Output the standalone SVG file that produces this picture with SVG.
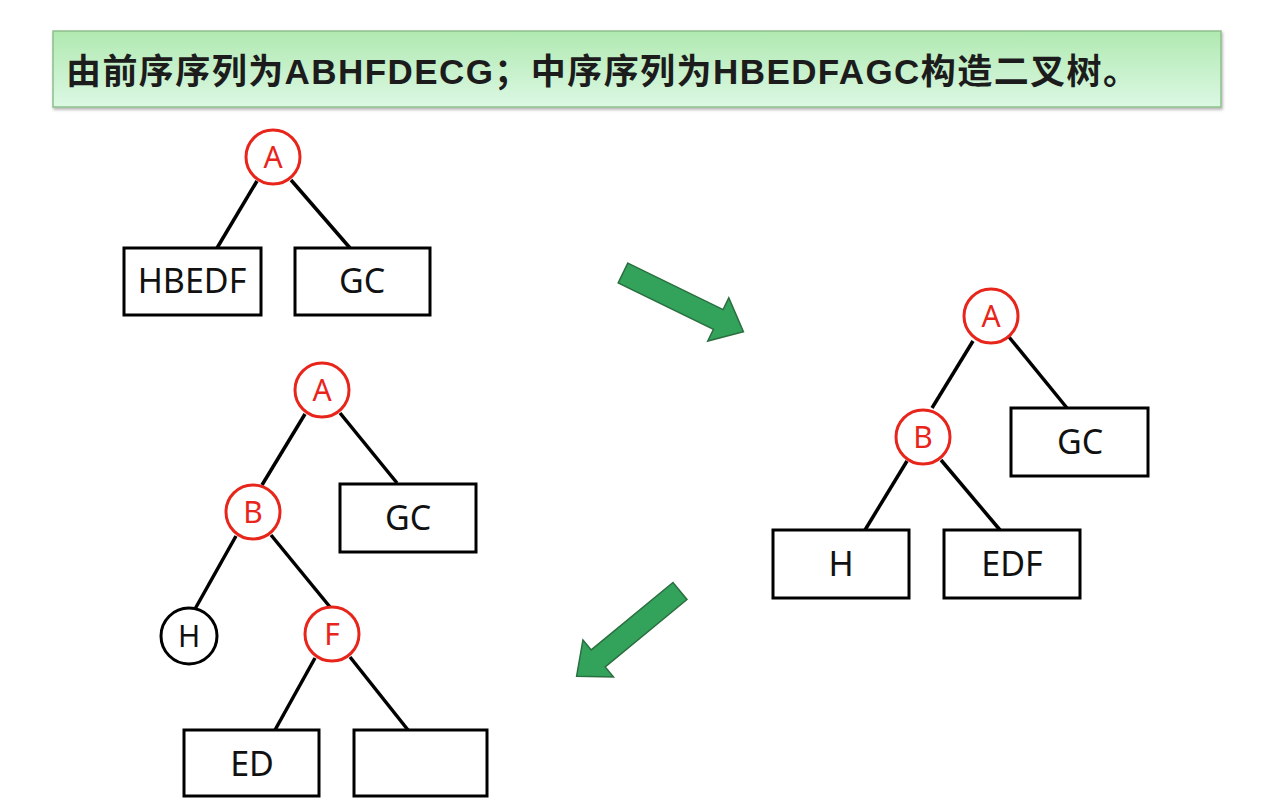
<svg xmlns="http://www.w3.org/2000/svg" width="1267" height="804" viewBox="0 0 1267 804">
<defs>
<linearGradient id="tg" x1="0" y1="0" x2="0" y2="1">
<stop offset="0" stop-color="#b0e9b0"/>
<stop offset="1" stop-color="#dcf8e4"/>
</linearGradient>
<filter id="sh" x="-5%" y="-20%" width="110%" height="140%">
<feDropShadow dx="1" dy="2" stdDeviation="1.5" flood-color="#000" flood-opacity="0.3"/>
</filter>
<polygon id="garrow" points="0,-11 106,-11 106,-24 134,0 106,24 106,11 0,11"/>
</defs>
<style>
.box{fill:#fff;stroke:#000;stroke-width:3}
.rc{fill:#fff;stroke:#e8251b;stroke-width:3}
.bc{fill:#fff;stroke:#000;stroke-width:3}
.edge{stroke:#000;stroke-width:3.5;fill:none;stroke-linecap:butt}
.bt{font-family:"Noto Sans","Open Sans",sans-serif;font-size:34px;fill:#111;text-anchor:middle}
.ct{font-family:"Noto Sans","Open Sans",sans-serif;font-size:30px;fill:#e8251b;text-anchor:middle}
.ctb{font-family:"Noto Sans","Open Sans",sans-serif;font-size:30px;fill:#111;text-anchor:middle}
.ga{fill:#33a35c;stroke:#2a6f40;stroke-width:1.5}
.tt{font-family:"Noto Sans CJK SC","Noto Sans",sans-serif;font-weight:bold;font-size:35px;fill:#1c1c1c}
.lat{font-family:"Liberation Sans","Noto Sans CJK SC",sans-serif;font-weight:bold}
</style>
<rect width="1267" height="804" fill="#fff"/>
<g id="title">
<rect x="53" y="31" width="1168" height="76" fill="url(#tg)" stroke="#8dbf8d" stroke-width="1.5" filter="url(#sh)"/>
<text class="tt" x="66" y="84" textLength="1072" lengthAdjust="spacing">由前序序列为<tspan class="lat">ABHFDECG</tspan>；中序序列为<tspan class="lat">HBEDFAGC</tspan>构造二叉树。</text>
</g>
<g id="connectors">
<line class="edge" x1="257" y1="181" x2="217" y2="248"/>
<line class="edge" x1="291" y1="180" x2="350" y2="248"/>
<line class="edge" x1="973" y1="341" x2="932" y2="408"/>
<line class="edge" x1="1009" y1="337" x2="1067" y2="408"/>
<line class="edge" x1="907" y1="461" x2="865" y2="530"/>
<line class="edge" x1="941" y1="460" x2="1000" y2="530"/>
<line class="edge" x1="305" y1="414" x2="262" y2="485"/>
<line class="edge" x1="340" y1="413" x2="397" y2="483"/>
<line class="edge" x1="236" y1="536" x2="195" y2="609"/>
<line class="edge" x1="271" y1="535" x2="330" y2="607"/>
<line class="edge" x1="315" y1="658" x2="275" y2="730"/>
<line class="edge" x1="350" y1="657" x2="408" y2="730"/>
<use href="#garrow" class="ga" transform="translate(623,273) rotate(26)"/>
<use href="#garrow" class="ga" transform="translate(680,591) rotate(140.5)"/>
</g>
<g id="t1-A"><circle class="rc" cx="273" cy="157" r="27"/><text class="ct" x="273" y="168">A</text></g>
<g id="t1-HBEDF"><rect class="box" x="124" y="248" width="137" height="67"/><text class="bt" x="192" y="293">HBEDF</text></g>
<g id="t1-GC"><rect class="box" x="295" y="248" width="135" height="67"/><text class="bt" x="362" y="293">GC</text></g>
<g id="t2-A"><circle class="rc" cx="991" cy="316" r="27"/><text class="ct" x="991" y="327">A</text></g>
<g id="t2-B"><circle class="rc" cx="923" cy="437" r="27"/><text class="ct" x="923" y="448">B</text></g>
<g id="t2-GC"><rect class="box" x="1011" y="408" width="137" height="68"/><text class="bt" x="1080" y="454">GC</text></g>
<g id="t2-H"><rect class="box" x="773" y="530" width="136" height="68"/><text class="bt" x="841" y="576">H</text></g>
<g id="t2-EDF"><rect class="box" x="944" y="530" width="136" height="68"/><text class="bt" x="1012" y="576">EDF</text></g>
<g id="t3-A"><circle class="rc" cx="322" cy="390" r="27"/><text class="ct" x="322" y="401">A</text></g>
<g id="t3-B"><circle class="rc" cx="253" cy="512" r="27"/><text class="ct" x="253" y="523">B</text></g>
<g id="t3-GC"><rect class="box" x="340" y="484" width="136" height="68"/><text class="bt" x="408" y="530">GC</text></g>
<g id="t3-H"><circle class="bc" cx="189" cy="636" r="28"/><text class="ctb" x="189" y="647">H</text></g>
<g id="t3-F"><circle class="rc" cx="332" cy="634" r="27"/><text class="ct" x="332" y="645">F</text></g>
<g id="t3-ED"><rect class="box" x="184" y="730" width="135" height="66"/><text class="bt" x="252" y="776">ED</text></g>
<g id="t3-empty"><rect class="box" x="354" y="730" width="133" height="66"/></g>
</svg>
